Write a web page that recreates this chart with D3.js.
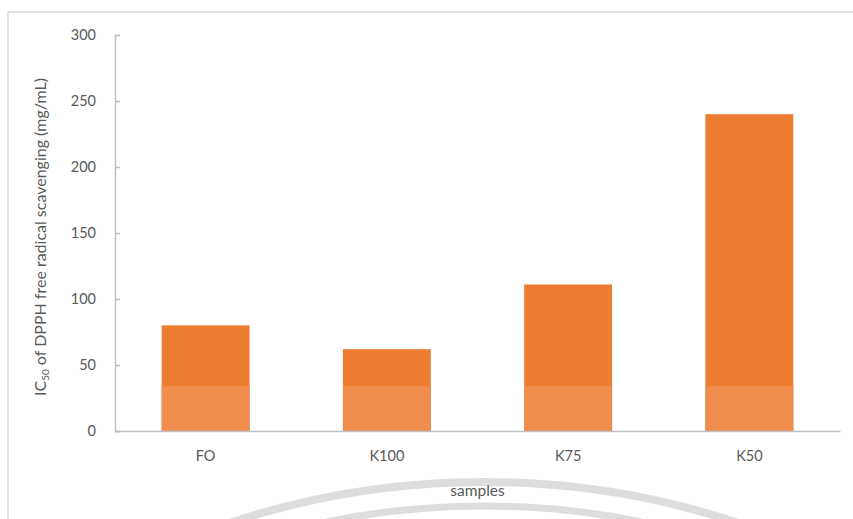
<!DOCTYPE html>
<html>
<head>
<meta charset="utf-8">
<script src="https://cdn.jsdelivr.net/npm/d3@7/dist/d3.min.js"></script>
<style>
  html, body { margin: 0; padding: 0; background: #fff; }
  svg { display: block; }
  text { font-family: Lato, "Open Sans", sans-serif; fill: #595959; }
</style>
</head>
<body>
<svg id="chart" width="853" height="519"></svg>
<script>
// Samples and their IC50 values (mg/mL)
const samples = ["FO", "K100", "K75", "K50"];
const ic50 = [80, 62, 111, 240];
const yTicks = [0, 50, 100, 150, 200, 250, 300];
const lowerBand = 34; // height of the paler lower section of each bar

const W = 853, H = 519;
const margin = { left: 115, right: 13, top: 35, bottom: 88 };
const svg = d3.select("#chart");
const FONT = "Lato, 'Open Sans', sans-serif";

// frame lines
svg.append("line").attr("x1", 8).attr("x2", W).attr("y1", 12).attr("y2", 12)
  .attr("stroke", "#d9d9d9").attr("stroke-width", 1.5);
svg.append("line").attr("x1", 8).attr("x2", 8).attr("y1", 12).attr("y2", H)
  .attr("stroke", "#d9d9d9").attr("stroke-width", 1.5);

// faint emblem arcs in the lower area
const arcs = svg.append("g").attr("fill", "none").attr("stroke", "#d4d4d4")
  .attr("stroke-opacity", 0.8);
arcs.append("circle").attr("cx", 484).attr("cy", 1292).attr("r", 810).attr("stroke-width", 8);
arcs.append("circle").attr("cx", 484).attr("cy", 1292).attr("r", 786).attr("stroke-width", 7);

const x = d3.scaleBand().domain(samples)
  .range([margin.left, W - margin.right]).paddingInner(0.515).paddingOuter(0.2575);
const y = d3.scaleLinear().domain([0, 300]).range([H - margin.bottom, margin.top]);

// bars: full value in the deeper orange, lower section in a paler tint
const bars = svg.append("g");
bars.selectAll("rect.upper").data(samples).join("rect")
  .attr("class", "upper")
  .attr("x", d => x(d)).attr("width", x.bandwidth())
  .attr("y", (d, i) => y(ic50[i])).attr("height", (d, i) => y(0) - y(ic50[i]))
  .attr("fill", "#ed7d31");
bars.selectAll("rect.lower").data(samples).join("rect")
  .attr("class", "lower")
  .attr("x", d => x(d)).attr("width", x.bandwidth())
  .attr("y", (d, i) => y(Math.min(lowerBand, ic50[i])))
  .attr("height", (d, i) => y(0) - y(Math.min(lowerBand, ic50[i])))
  .attr("fill", "#ef8d4f");

// y axis
const yAxis = svg.append("g").attr("transform", `translate(${margin.left},0)`)
  .call(d3.axisLeft(y).tickValues(yTicks).tickSizeInner(-5).tickSizeOuter(-5).tickPadding(19));
yAxis.select(".domain").attr("stroke", "#bfbfbf").attr("stroke-width", 1.5);
yAxis.selectAll(".tick line").attr("stroke", "#bfbfbf").attr("stroke-width", 1.5);
yAxis.selectAll("text").attr("font-size", 14.5).attr("fill", "#595959")
  .style("font-family", FONT);

// x axis
const xAxis = svg.append("g").attr("transform", `translate(0,${y(0)})`)
  .call(d3.axisBottom(x).tickSize(0).tickPadding(20));
xAxis.select(".domain").attr("stroke", "#bfbfbf").attr("stroke-width", 1.5);
xAxis.selectAll("text").attr("font-size", 14.5).attr("fill", "#595959")
  .style("font-family", FONT);

// axis titles
svg.append("text")
  .attr("x", (margin.left + W - margin.right) / 2).attr("y", 496)
  .attr("text-anchor", "middle").attr("font-size", 15.5).text("samples");

const yt = svg.append("text")
  .attr("transform", `translate(46,${(y(0) + y(300)) / 2 + 4}) rotate(-90)`)
  .attr("text-anchor", "middle").attr("font-size", 16);
yt.append("tspan").text("IC");
yt.append("tspan").attr("font-size", 10).attr("dy", 3).text("50");
yt.append("tspan").attr("dy", -3).text(" of DPPH free radical scavenging (mg/mL)");
</script>
</body>
</html>
